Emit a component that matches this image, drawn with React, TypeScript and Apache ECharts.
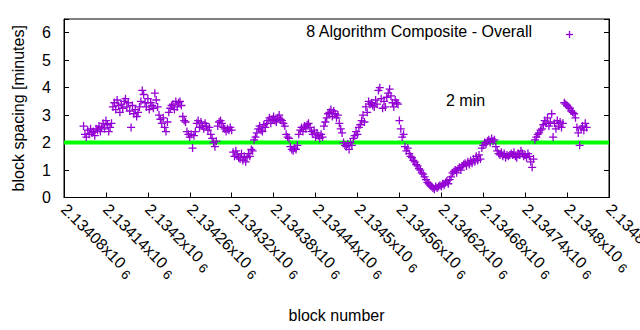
import React, { useEffect, useRef } from "react";
import * as echarts from "echarts";

// x axis: block numbers
const xMin = 2134080;
const xMax = 2134860;
const xInterval = 60;
const xTickMantissas = [
  "2.13408", "2.13414", "2.1342", "2.13426", "2.13432", "2.13438", "2.13444",
  "2.1345", "2.13456", "2.13462", "2.13468", "2.13474", "2.1348", "2.13486",
];
const yTickLabels = ["0", "1", "2", "3", "4", "5", "6"];

// series: block spacing in minutes, one reading every 2nd block from firstBlock
const firstBlock = 2134108;
const blockStep = 2;
const spacingMinutes = [
  2.6, 2.3, 2.2, 2.45, 2.3, 2.5, 2.35, 2.4, 2.25, 2.5,
  2.45, 2.6, 2.4, 2.55, 2.7, 2.5, 2.8, 2.65, 2.4, 2.55,
  2.7, 3.3, 3.45, 3.2, 3.55, 3.35, 3.1, 3.4, 3.25, 3.5,
  3.6, 3.3, 3.45, 3.15, 2.55, 3.35, 3.05, 3.2, 2.95, 3.1,
  3.3, 3.5, 3.9, 3.75, 3.45, 3.3, 3.6, 3.2, 3.45, 3.35, 3.25,
  3.8, 3.55, 3.3, 3.0, 2.85, 2.7, 2.9, 2.55, 2.4, 2.75,
  3.1, 3.25, 3.35, 3.4, 3.2, 3.5, 3.3, 3.45, 3.5, 3.35,
  2.95, 2.8, 2.75, 2.4, 2.3, 2.2, 2.3, 1.8, 2.25, 2.4,
  2.7, 2.8, 2.55, 2.75, 2.6, 2.5, 2.7, 2.6, 2.45, 2.55,
  2.3, 2.15, 2.0, 1.85, 2.05, 2.6, 2.75, 2.8, 2.7, 2.55, 2.5,
  2.4, 2.5, 2.45, 2.55, 2.45, 1.65, 1.5, 1.7, 1.55, 1.45,
  1.4, 1.6, 1.35, 1.5, 1.3, 1.45, 1.6, 1.5, 1.75, 1.7,
  2.1, 2.2, 2.35, 2.5, 2.6, 2.45, 2.4, 2.65, 2.55, 2.7,
  2.8, 2.9, 2.7, 2.85, 2.95, 2.8, 2.75, 2.9, 3.0, 2.85,
  2.8, 2.7, 2.6, 2.3, 2.2, 2.15, 1.85, 1.75, 1.7, 1.8, 1.75,
  1.9, 2.3, 2.45, 2.55, 2.4, 2.6, 2.5, 2.65, 2.7, 2.55,
  2.4, 2.3, 2.45, 2.2, 2.35, 2.25, 2.15, 2.3, 2.2, 2.6,
  2.75, 2.9, 3.05, 3.1, 3.2, 2.95, 3.15, 3.05, 2.9, 3.0,
  2.7, 2.5, 2.35, 2.0, 1.9, 1.85, 1.95, 1.75, 2.0, 1.9,
  2.15, 2.25, 2.4, 2.3, 2.55, 2.65, 2.8, 3.0, 2.75, 3.3, 3.1,
  3.5, 3.4, 3.45, 3.35, 3.3, 3.55, 3.4, 3.9, 4.0, 3.6,
  3.25, 3.5, 3.3, 3.65, 3.8, 3.95, 3.7, 3.45, 3.3, 3.55,
  3.45, 3.4, 2.8, 2.5, 2.2, 2.3, 1.85, 1.7, 1.8, 1.6,
  1.5, 1.45, 1.35, 1.3, 1.2, 1.15, 1.05, 1.0, 0.9, 0.85,
  0.75, 0.65, 0.55, 0.5, 0.45, 0.4, 0.35, 0.3, 0.4, 0.35, 0.4,
  0.45, 0.4, 0.5, 0.45, 0.55, 0.6, 0.5, 0.65, 0.75, 0.9,
  0.95, 1.0, 0.9, 1.05, 1.1, 1.0, 1.15, 1.2, 1.25, 1.15,
  1.3, 1.2, 1.35, 1.25, 1.4, 1.3, 1.5, 1.35, 1.55, 1.4,
  1.8, 1.9, 2.0, 1.95, 2.05, 2.1, 2.0, 2.15, 2.05, 2.1,
  1.85, 1.7, 1.6, 1.55, 1.65, 1.5, 1.6, 1.45, 1.55, 1.5, 1.55,
  1.6, 1.55, 1.65, 1.5, 1.45, 1.6, 1.55, 1.7, 1.6, 1.5,
  1.55, 1.45, 1.6, 1.5, 1.3, 1.1, 1.4, 2.1, 2.2, 2.3,
  2.35, 2.45, 2.5, 2.65, 2.8, 2.7, 2.9, 2.6, 2.75, 3.05,
  2.2, 2.7, 2.5, 2.8, 2.6, 2.75, 2.55, 2.7, 3.45, 3.4,
  3.35, 3.3, 3.25, 3.15, 3.1, 3.05, 2.9, 2.55, 2.35, 1.9, 2.5,
  2.6, 2.45, 2.7, 2.55,
];
const targetMinutes = 2;
const seriesName = "8 Algorithm Composite - Overall";
const targetLabel = "2 min";

const PURPLE = "#9400D3";
const GREEN = "#00FF00";
const FONT = "'Liberation Sans', Arial, sans-serif";
const FS = 16;
const PLUS = "path://M3.35,0 H4.65 V3.35 H8 V4.65 H4.65 V8 H3.35 V4.65 H0 V3.35 H3.35 Z";

export default function App() {
  const ref = useRef<HTMLDivElement>(null);
  useEffect(() => {
    if (!ref.current) return;
    const chart = echarts.init(ref.current, null, { renderer: "svg" });
    const points = spacingMinutes.map((v, i) => [firstBlock + i * blockStep, v]);
    chart.setOption({
      animation: false,
      textStyle: { fontFamily: FONT },
      grid: {
        left: 64, right: 31, top: 19, bottom: 132.5,
        outerBoundsMode: "none",
        containLabel: false,
        show: true, borderColor: "#000", borderWidth: 1,
      },
      xAxis: {
        type: "value", min: xMin, max: xMax, interval: xInterval,
        name: "block number", nameLocation: "middle", nameGap: 110,
        nameTextStyle: { fontSize: FS, color: "#000", fontFamily: FONT },
        axisLine: { show: true, lineStyle: { color: "#000", width: 1 } },
        axisTick: { show: true, inside: true, length: 5, lineStyle: { color: "#000" } },
        splitLine: { show: false },
        axisLabel: {
          rotate: -45, margin: 9, color: "#000", fontSize: FS, fontFamily: FONT,
          showMaxLabel: true, showMinLabel: true,
          formatter: (v: number) => {
            const idx = Math.round((v - xMin) / xInterval);
            const m = xTickMantissas[idx];
            return m ? `{a|${m}x10 }{s|6}` : "";
          },
          rich: {
            a: { fontSize: FS, color: "#000", fontFamily: FONT, verticalAlign: "middle" },
            s: { fontSize: 13, color: "#000", fontFamily: FONT, verticalAlign: "middle", padding: [9, 0, 0, 0] },
          },
        },
      },
      yAxis: [
        {
          type: "value", min: 0, max: 6.5, interval: 1,
          name: "block spacing [minutes]", nameLocation: "middle", nameGap: 38,
          nameTextStyle: { fontSize: FS, color: "#000", fontFamily: FONT },
          axisLine: { show: true, lineStyle: { color: "#000", width: 1 } },
          axisTick: { show: true, inside: true, length: 5, lineStyle: { color: "#000" } },
          splitLine: { show: false },
          axisLabel: {
            margin: 13, color: "#000", fontSize: FS, fontFamily: FONT,
            formatter: (v: number) => (Number.isInteger(v) ? yTickLabels[v] ?? "" : ""),
          },
        },
        {
          type: "value", min: 0, max: 6.5, interval: 1, position: "right",
          axisLine: { show: true, lineStyle: { color: "#000", width: 1 } },
          axisTick: { show: true, inside: true, length: 5, lineStyle: { color: "#000" } },
          axisLabel: { show: false },
          splitLine: { show: false },
        },
      ],
      series: [
        {
          type: "line",
          name: targetLabel,
          data: [[xMin, targetMinutes], [xMax, targetMinutes]],
          showSymbol: false,
          symbol: "none",
          lineStyle: { color: GREEN, width: 4 },
          silent: true,
          z: 1,
        },
        {
          type: "scatter",
          name: seriesName,
          data: points,
          symbol: PLUS,
          symbolSize: 8,
          itemStyle: { color: PURPLE, opacity: 1 },
          silent: true,
          z: 2,
        },
      ],
      graphic: [
        {
          type: "text", right: 640 - 533, top: 23,
          style: { text: seriesName, fill: "#000", fontSize: FS, fontFamily: FONT },
        },
        {
          type: "group", left: 563.5, top: 28.5,
          children: [
            { type: "line", shape: { x1: 0, y1: 3.5, x2: 7, y2: 3.5 }, style: { stroke: PURPLE, lineWidth: 1.3 } },
            { type: "line", shape: { x1: 3.5, y1: 0, x2: 3.5, y2: 7 }, style: { stroke: PURPLE, lineWidth: 1.3 } },
          ],
        },
        {
          type: "text", left: 446, top: 92,
          style: { text: targetLabel, fill: "#000", fontSize: FS, fontFamily: FONT },
        },
      ],
    });
    return () => chart.dispose();
  }, []);
  return (
    <div
      ref={ref}
      style={{ position: "fixed", left: 0, top: 0, width: 640, height: 330, background: "#fff" }}
    />
  );
}
